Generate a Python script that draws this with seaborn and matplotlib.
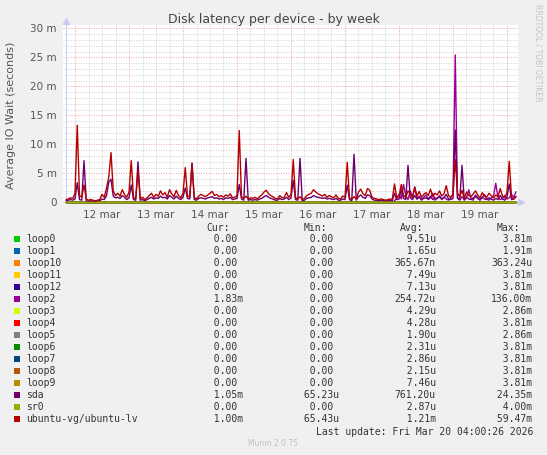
import matplotlib
matplotlib.use("Agg")
import pandas as pd
import matplotlib.pyplot as plt
import matplotlib.dates as mdates
from matplotlib.ticker import FuncFormatter, MultipleLocator
from matplotlib.patches import Rectangle
import seaborn as sns

W, H = 547, 455

devices = ["loop0", "loop1", "loop10", "loop11", "loop12", "loop2", "loop3", "loop4",
           "loop5", "loop6", "loop7", "loop8", "loop9", "sda", "sr0", "ubuntu-vg/ubuntu-lv"]
colors = ["#00CC00", "#0066B3", "#FF8000", "#FFCC00", "#330099", "#990099", "#CCFF00", "#FF0000",
          "#808080", "#008F00", "#00487D", "#B35A00", "#B38F00", "#6B006B", "#8FB300", "#B30000"]

# legend numbers, in seconds
cur_s = [0, 0, 0, 0, 0, 1.83e-3, 0, 0, 0, 0, 0, 0, 0, 1.05e-3, 0, 1.00e-3]
min_s = [0, 0, 0, 0, 0, 0, 0, 0, 0, 0, 0, 0, 0, 65.23e-6, 0, 65.43e-6]
avg_s = [9.51e-6, 1.65e-6, 365.67e-9, 7.49e-6, 7.13e-6, 254.72e-6, 4.29e-6, 4.28e-6,
         1.90e-6, 2.31e-6, 2.86e-6, 2.15e-6, 7.46e-6, 761.20e-6, 2.87e-6, 1.21e-3]
max_s = [3.81e-3, 1.91e-3, 363.24e-6, 3.81e-3, 3.81e-3, 136.00e-3, 2.86e-3, 3.81e-3,
         2.86e-3, 3.81e-3, 3.81e-3, 3.81e-3, 3.81e-3, 24.35e-3, 4.00e-3, 59.47e-3]

# hourly samples from 11 mar 20:00 to 20 mar 04:00, in milliseconds
ubuntu_lv_ms = [
    0.5, 0.6, 0.8, 0.7, 1.6, 13.3, 1.2, 0.9, 3.0, 0.6, 0.4, 0.5,
    0.4, 0.3, 0.4, 0.5, 1.4, 0.9, 2.5, 4.3, 8.6, 2.0, 1.2, 1.6,
    1.1, 2.2, 1.4, 0.9, 1.8, 7.2, 0.8, 0.7, 5.5, 0.6, 0.9, 0.5,
    0.8, 1.2, 1.6, 0.9, 1.4, 1.1, 2.0, 1.3, 1.7, 0.9, 2.2, 1.5,
    1.0, 2.1, 1.2, 0.8, 1.6, 6.0, 1.1, 1.0, 6.7, 0.9, 0.6, 1.1,
    1.4, 1.2, 1.0, 1.3, 1.6, 1.9, 1.2, 1.4, 1.0, 1.2, 0.9, 1.3,
    1.1, 1.5, 0.8, 0.9, 1.2, 12.4, 1.0, 0.7, 1.1, 0.6, 0.8, 0.7,
    0.9, 0.6, 1.0, 1.3, 1.8, 2.1, 1.5, 1.2, 1.0, 0.7, 0.6, 1.2,
    0.8, 0.9, 1.7, 0.9, 1.4, 7.4, 0.8, 0.6, 1.0, 0.5, 0.7, 1.2,
    1.4, 1.6, 2.2, 1.8, 1.5, 1.3, 1.1, 1.4, 0.9, 1.2, 1.0, 0.8,
    1.3, 0.7, 0.6, 1.1, 0.9, 6.9, 0.8, 0.5, 1.0, 0.6, 1.8, 2.3,
    1.5, 1.2, 2.4, 2.1, 0.9, 0.7, 0.6, 0.5, 0.6, 0.5, 0.4, 0.5,
    0.6, 0.5, 3.2, 0.8, 1.0, 3.1, 1.2, 0.9, 2.0, 1.5, 0.8, 2.6,
    1.1, 1.9, 0.9, 1.4, 1.7, 1.2, 2.3, 1.0, 1.6, 1.3, 2.0, 1.1,
    1.5, 2.9, 1.2, 0.9, 1.4, 7.4, 1.6, 1.0, 2.1, 0.7, 1.8, 1.2,
    1.0, 1.5, 2.0, 1.3, 0.8, 1.7, 1.1, 0.9, 1.6, 1.2, 0.8, 1.3,
    1.0, 2.4, 1.1, 0.8, 1.8, 7.1, 0.9, 0.6, 1.0,
]
sda_ms = [
    0.3, 0.4, 0.5, 0.4, 0.6, 3.4, 0.5, 0.4, 7.2, 0.3, 0.2, 0.3,
    0.2, 0.2, 0.3, 0.3, 0.6, 0.5, 1.2, 3.5, 4.0, 1.1, 0.8, 0.9,
    0.7, 1.2, 0.9, 0.5, 0.8, 3.0, 0.5, 0.4, 7.0, 0.4, 0.5, 0.3,
    0.5, 0.7, 0.9, 0.6, 0.8, 0.7, 1.1, 0.8, 0.9, 0.6, 1.2, 0.9,
    0.6, 1.1, 0.7, 0.5, 0.9, 2.5, 0.7, 0.6, 6.8, 0.5, 0.4, 0.7,
    0.8, 0.7, 0.6, 0.8, 0.9, 1.0, 0.7, 0.8, 0.6, 0.7, 0.5, 0.8,
    0.7, 0.9, 0.5, 0.6, 0.7, 3.1, 0.6, 0.4, 7.6, 0.4, 0.5, 0.4,
    0.5, 0.4, 0.6, 0.7, 1.0, 1.2, 0.9, 0.7, 0.6, 0.4, 0.4, 0.7,
    0.5, 0.6, 0.9, 0.5, 0.8, 3.8, 0.5, 0.4, 7.6, 0.3, 0.4, 0.7,
    0.8, 0.9, 1.2, 1.0, 0.9, 0.8, 0.7, 0.8, 0.6, 0.7, 0.6, 0.5,
    0.7, 0.4, 0.4, 0.6, 0.5, 3.0, 0.5, 0.3, 8.3, 0.4, 1.0, 1.3,
    0.9, 0.7, 1.3, 1.2, 0.6, 0.4, 0.4, 0.3, 0.4, 0.3, 0.3, 0.3,
    0.4, 0.3, 1.6, 0.5, 0.6, 2.2, 0.7, 0.5, 6.4, 0.8, 0.5, 1.2,
    0.6, 0.9, 0.5, 0.7, 0.8, 0.6, 1.1, 0.5, 0.8, 0.7, 1.0, 0.6,
    0.8, 1.4, 0.6, 0.5, 0.7, 12.5, 0.8, 0.5, 6.4, 0.4, 0.9, 0.6,
    0.5, 0.8, 1.0, 0.7, 0.4, 0.9, 0.6, 0.5, 0.8, 0.6, 0.4, 0.7,
    0.5, 1.2, 0.6, 0.4, 0.9, 3.2, 0.5, 0.6, 1.05,
]
# loop2 stays at zero until the evening of 17 mar
loop2_ms = [0.0] * 144 + [
    0.0, 0.0, 0.3, 0.8, 1.4, 0.6, 3.1, 1.2, 0.5, 2.0, 0.9, 2.7,
    0.6, 1.1, 0.4, 0.9, 1.3, 0.5, 0.8, 1.6, 0.4, 0.7, 1.2, 0.5,
    0.9, 0.6, 0.4, 0.8, 1.5, 25.4, 0.7, 0.4, 1.0, 0.5, 0.8, 2.2,
    0.6, 0.4, 1.3, 0.8, 0.5, 0.9, 1.4, 0.6, 0.4, 0.8, 1.1, 3.3,
    0.9, 0.5, 0.7, 1.2, 0.6, 0.8, 1.4, 0.9, 1.83,
]

start = pd.Timestamp("2026-03-11 20:00")
times = pd.date_range(start, periods=len(ubuntu_lv_ms), freq="h")

series = {"loop2": loop2_ms, "sda": sda_ms, "ubuntu-vg/ubuntu-lv": ubuntu_lv_ms}
frames = []
for dev in devices:
    vals = series.get(dev, [0.0] * len(times))
    frames.append(pd.DataFrame({"time": times, "ms": vals, "device": dev}))
df = pd.concat(frames, ignore_index=True)


def si(v):
    if v == 0:
        return "%6.2f " % 0
    for scale, p in [(1e-3, "m"), (1e-6, "u"), (1e-9, "n")]:
        if v >= scale:
            return "%6.2f%s" % (v / scale, p)
    return "%6.2f " % v


def fx(px):
    return px / W


def fy(py):
    return 1 - py / H


sns.set_style("white")
plt.rcParams["font.family"] = ["DejaVu Sans"]

fig = plt.figure(figsize=(W / 100, H / 100), dpi=100, facecolor="#F0F0F0")
ax = fig.add_axes([fx(63), fy(204), (518 - 63) / W, (204 - 25) / H])
ax.set_facecolor("white")

sns.lineplot(data=df, x="time", y="ms", hue="device", hue_order=devices,
             palette=dict(zip(devices, colors)), linewidth=1.0, estimator=None,
             legend=False, ax=ax, zorder=3)

hour = pd.Timedelta(hours=1)
ax.set_xlim(start - hour * (3 / 2.25), start + hour * ((518 - 66) / 2.25))
ax.set_ylim(-(204 - 202.5) / 5.8, 30 + (28.3 - 25) / 5.8)

ax.xaxis.set_major_locator(mdates.DayLocator())
ax.xaxis.set_minor_locator(mdates.HourLocator(byhour=[6, 12, 18]))
ax.xaxis.set_major_formatter(FuncFormatter(lambda v, p: ""))
ax.xaxis.set_minor_formatter(FuncFormatter(
    lambda v, p: mdates.num2date(v).strftime("%d mar") if mdates.num2date(v).hour == 12 else ""))
ax.yaxis.set_major_locator(MultipleLocator(5))
ax.yaxis.set_minor_locator(MultipleLocator(1))
ax.yaxis.set_major_formatter(FuncFormatter(lambda v, p: "0" if v == 0 else "%d m" % v))

ax.grid(which="major", color="#F2A8A8", linestyle=(0, (1.5, 1.5)), linewidth=0.6)
ax.grid(which="minor", color="#D4D4D4", linestyle=(0, (1.5, 1.5)), linewidth=0.6)
ax.set_axisbelow(True)
ax.tick_params(axis="x", which="major", length=2, color="#F2A8A8", pad=0)
ax.tick_params(axis="x", which="minor", length=0, pad=4.5, labelsize=7.5, labelcolor="#555555")
ax.tick_params(axis="y", which="major", length=2, color="#F2A8A8", pad=2.5,
               labelsize=7.5, labelcolor="#555555")
ax.tick_params(axis="y", which="minor", length=0)
ax.set_xlabel("")
ax.set_ylabel("")
for s in ax.spines.values():
    s.set_visible(False)

axis_col = "#C8CCF4"
ax.axhline(0, color=axis_col, linewidth=0.8, zorder=2)
ax.axvline(start, color=axis_col, linewidth=0.8, zorder=2)
ax.plot([start], [31.3], marker="^", markersize=4, color=axis_col, clip_on=False)
ax.plot([start + hour * ((521 - 66) / 2.25)], [0], marker=">", markersize=4,
        color=axis_col, clip_on=False)

fig.text(fx(273.5), fy(19), "Disk latency per device - by week", ha="center", va="center",
         fontsize=9, color="#444444")
fig.text(fx(11), fy(115), "Average IO Wait (seconds)", rotation=90, ha="center", va="center",
         fontsize=8, color="#555555")
fig.text(fx(538), fy(53), "RRDTOOL / TOBI OETIKER", rotation=270, ha="center", va="center",
         fontsize=5.5, color="#C4C4C4")

mono = "DejaVu Sans Mono"
txt = "#333333"
for label, xp in [("Cur:", 206.6), ("Min:", 303.6), ("Avg:", 400), ("Max:", 497)]:
    fig.text(fx(xp), fy(227.7), label, family=mono, fontsize=7, color=txt, va="center")
for k, dev in enumerate(devices):
    yc = 239.3 + 12 * k
    fig.patches.append(Rectangle((fx(14), fy(yc + 3)), 6 / W, 6 / H, transform=fig.transFigure,
                                 facecolor=colors[k], edgecolor="none"))
    fig.text(fx(26), fy(yc), dev, family=mono, fontsize=7, color=txt, va="center")
    for vals, xp in [(cur_s, 201.7), (min_s, 297.7), (avg_s, 394.6), (max_s, 491.3)]:
        fig.text(fx(xp), fy(yc), si(vals[k]), family=mono, fontsize=7, color=txt, va="center")
fig.text(fx(533), fy(431.7), "Last update: Fri Mar 20 04:00:26 2026", family=mono, fontsize=7,
         color=txt, ha="right", va="center")
fig.text(fx(273), fy(444), "Munin 2.0.75", fontsize=5.5, color="#C0C0C0", ha="center",
         va="center")

fig.savefig("out.png", dpi=100, facecolor=fig.get_facecolor())
